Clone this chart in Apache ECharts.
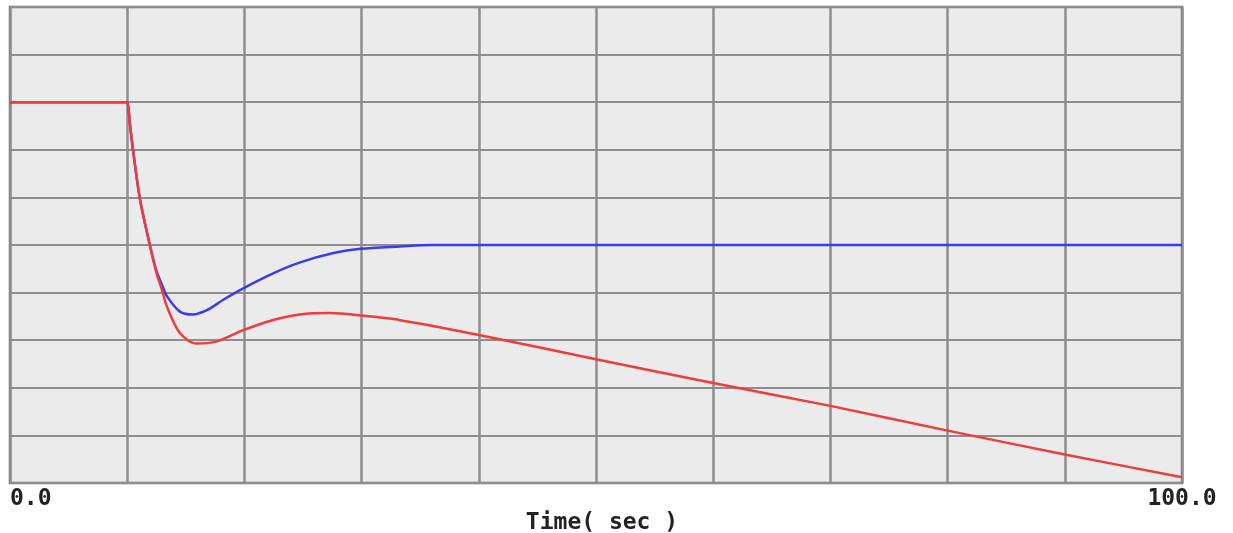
<!DOCTYPE html>
<html>
<head>
<meta charset="utf-8">
<script src="https://cdn.jsdelivr.net/npm/echarts@6/dist/echarts.min.js"></script>
<style>
html,body{margin:0;padding:0;background:#ffffff;}
#chart{width:1233px;height:533px;}
</style>
</head>
<body>
<div id="chart"></div>
<script>
// Time samples (sec) and values for each trace
const redTime  = [0, 9.9, 10, 10.26, 10.52, 11.1, 11.95, 12.5, 12.94, 13.4, 14.5, 15.9, 17.6, 19.9, 22.4, 24.7, 27.3, 29.9, 33.3, 40, 50, 60, 70, 80, 90, 100];
const redValue = [8, 8, 8, 7.48, 6.95, 5.95, 4.98, 4.41, 4.08, 3.70, 3.15, 2.93, 2.97, 3.21, 3.42, 3.54, 3.57, 3.52, 3.42, 3.11, 2.60, 2.10, 1.62, 1.10, 0.60, 0.12];

const blueTime  = [0, 9.9, 10, 10.26, 10.52, 11.1, 11.95, 12.5, 12.94, 13.4, 14.5, 15.6, 16.8, 18.2, 19.9, 22.5, 24.7, 27.6, 29.9, 33.3, 36, 40, 100];
const blueValue = [8, 8, 8, 7.48, 6.95, 5.95, 4.98, 4.45, 4.18, 3.92, 3.60, 3.54, 3.63, 3.85, 4.09, 4.41, 4.63, 4.83, 4.92, 4.97, 5.0, 5.0, 5.0];

const xMin = 0, xMax = 100, xStep = 10;
const yMin = 0, yMax = 10, yStep = 1;
const xEndLabels = {0: '0.0', 100: '100.0'};
const xAxisTitle = 'Time( sec )';

const zip = (a, b) => a.map((t, i) => [t, b[i]]);

const chart = echarts.init(document.getElementById('chart'));
const labelFont = {fontFamily: 'DejaVu Sans Mono', fontWeight: 'bold', color: '#222'};
chart.setOption({
  animation: false,
  grid: {
    left: 10, right: 51, top: 7, bottom: 50,
    outerBoundsMode: 'none', containLabel: false,
    show: true, backgroundColor: '#ebebeb', borderColor: '#6f6f6f', borderWidth: 2.5
  },
  xAxis: {
    type: 'value', min: xMin, max: xMax, interval: xStep,
    axisLine: {show: false}, axisTick: {show: false},
    splitLine: {show: true, lineStyle: {color: '#8e8e8e', width: 2.5}},
    axisLabel: Object.assign({
      fontSize: 23, margin: 5,
      showMinLabel: true, showMaxLabel: true,
      alignMinLabel: 'left', alignMaxLabel: 'center',
      formatter: v => (xEndLabels[v] !== undefined ? xEndLabels[v] : '')
    }, labelFont),
    name: xAxisTitle, nameLocation: 'middle', nameGap: 29, nameMoveOverlap: false,
    nameTextStyle: Object.assign({fontSize: 23, padding: [0, 0, 0, 12]}, labelFont)
  },
  yAxis: {
    type: 'value', min: yMin, max: yMax, interval: yStep,
    axisLine: {show: false}, axisTick: {show: false}, axisLabel: {show: false},
    splitLine: {show: true, lineStyle: {color: '#8e8e8e', width: 2}}
  },
  series: [
    {
      name: 'blue', type: 'line', data: zip(blueTime, blueValue),
      showSymbol: false, smooth: 0.3,
      lineStyle: {color: '#3b3bf0', width: 2.5}, z: 3
    },
    {
      name: 'red', type: 'line', data: zip(redTime, redValue),
      showSymbol: false, smooth: 0.3,
      lineStyle: {color: '#f03c3c', width: 2.5}, z: 4
    }
  ]
});
</script>
</body>
</html>
